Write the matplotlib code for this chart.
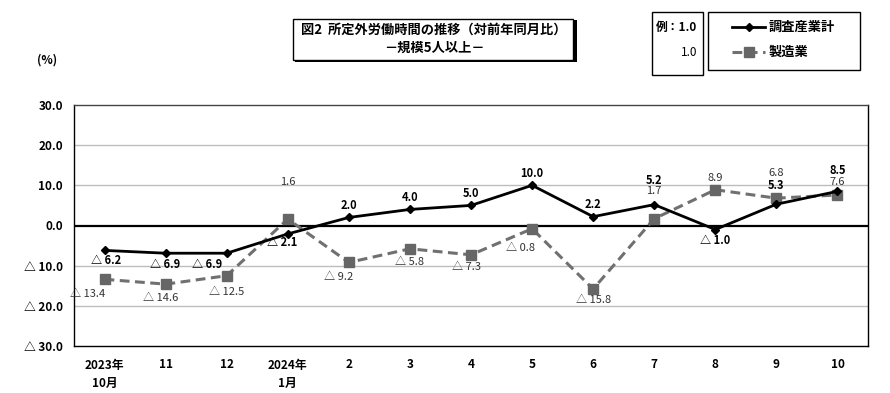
import matplotlib
matplotlib.use("Agg")
import matplotlib.pyplot as plt
from matplotlib.patches import Rectangle
from matplotlib.lines import Line2D

plt.rcParams['font.family'] = ['Noto Sans CJK JP', 'DejaVu Sans']

categories = ["2023年\n10月", "11", "12", "2024年\n1月", "2", "3", "4", "5", "6", "7", "8", "9", "10"]
total = [-6.2, -6.9, -6.9, -2.1, 2.0, 4.0, 5.0, 10.0, 2.2, 5.2, -1.0, 5.3, 8.5]
manuf = [-13.4, -14.6, -12.5, 1.6, -9.2, -5.8, -7.3, -0.8, -15.8, 1.7, 8.9, 6.8, 7.6]
yticks = [30, 20, 10, 0, -10, -20, -30]
ytick_labels = ["30.0", "20.0", "10.0", "0.0", "△ 10.0", "△ 20.0", "△ 30.0"]
series_names = ["調査産業計", "製造業"]

# label offsets (pixels)
total_off = [(2, -10), (0, -11), (-20, -11), (-6, -9), (0, 12), (0, 12), (0, 12), (0, 12),
             (0, 12), (0, 24), (0, -11), (0, 19), (0, 21)]
manuf_off = [(-17, -15), (-5, -14), (0, -16), (0, 37), (-10, -15), (0, -13), (-5, -12), (-12, -19),
             (0, -11), (0, 28), (0, 12), (0, 25), (0, 13)]

def fmt(v):
    return ("△ %.1f" % abs(v)) if v < 0 else ("%.1f" % v)

fig = plt.figure(figsize=(8.9, 3.93), dpi=100)
ax = fig.add_axes([74/890, 1-346/393, (868-74)/890, (346-105)/393])
x = list(range(len(categories)))

for yv in [20, 10, -10, -20]:
    ax.axhline(yv, color="#bdbdbd", lw=1.0, zorder=1)
ax.axhline(0, color="black", lw=1.6, zorder=2)

ax.plot(x, manuf, color="#707070", lw=2.2, ls=(0, (3.2, 1.8)), marker="s", ms=6.5,
        mfc="#666666", mec="#666666", zorder=3)
ax.plot(x, total, color="black", lw=2.0, marker="D", ms=4.5, mfc="black", mec="black", zorder=4)

narrow = ['Liberation Sans Narrow', 'Noto Sans CJK JP', 'DejaVu Sans']
for i, v in enumerate(total):
    dx, dy = total_off[i]
    ax.annotate(fmt(v), (i, v), xytext=(dx, dy), textcoords="offset pixels",
                ha="center", va="center", fontsize=8, fontweight="bold", family=narrow, zorder=5)
for i, v in enumerate(manuf):
    dx, dy = manuf_off[i]
    ax.annotate(fmt(v), (i, v), xytext=(dx, dy), textcoords="offset pixels",
                ha="center", va="center", fontsize=8, color="#333333", family=narrow, zorder=5)

ax.set_xlim(-0.5, len(categories) - 0.5)
ax.set_ylim(-30, 30)
ax.set_yticks(yticks)
ax.set_yticklabels(ytick_labels, fontsize=8.5, fontweight="bold")
ax.set_xticks(x)
ax.set_xticklabels(categories, fontsize=8.5, fontweight="bold", linespacing=1.5)
ax.tick_params(length=0, pad=8)
ax.tick_params(axis="x", pad=9)
for s in ax.spines.values():
    s.set_color("black")
    s.set_linewidth(1.0)
ax.spines["top"].set_color("#444444")
for lab in ax.get_xticklabels():
    lab.set_va("top")

fig.text(47/890, 1-60/393, "(%)", ha="center", va="center", fontsize=8.5, fontweight="bold")

# title box with shadow
fig.patches.append(Rectangle((295/890, 1-62/393), (282/890), (42/393), transform=fig.transFigure,
                             facecolor="black", edgecolor="none", zorder=0))
fig.patches.append(Rectangle((293/890, 1-60/393), (280/890), (41/393), transform=fig.transFigure,
                             facecolor="white", edgecolor="black", lw=1.0, zorder=1))
fig.text(434/890, 1-30/393, "図2  所定外労働時間の推移（対前年同月比）", ha="center", va="center",
         fontsize=9.5, fontweight="bold", zorder=2)
fig.text(434/890, 1-48/393, "－規模5人以上－", ha="center", va="center",
         fontsize=9.5, fontweight="bold", zorder=2)

# example box
fig.patches.append(Rectangle((652/890, 1-75/393), (51/890), (63/393), transform=fig.transFigure,
                             facecolor="white", edgecolor="black", lw=1.0))
fig.text(677/890, 1-27/393, "例：1.0", ha="center", va="center", fontsize=8.5, fontweight="bold")
fig.text(697/890, 1-52/393, "1.0", ha="right", va="center", fontsize=8.5, family=narrow)

# legend box
fig.patches.append(Rectangle((708/890, 1-70/393), (152/890), (58/393), transform=fig.transFigure,
                             facecolor="white", edgecolor="black", lw=1.0))
fig.lines.append(Line2D([732/890, 765/890], [1-27/393, 1-27/393], transform=fig.transFigure,
                        color="black", lw=2.0, marker="D", ms=4.5, markevery=[], zorder=3))
fig.lines.append(Line2D([748.5/890], [1-27/393], transform=fig.transFigure,
                        color="black", marker="D", ms=4.5, ls="none", zorder=3))
fig.lines.append(Line2D([732/890, 765/890], [1-52/393, 1-52/393], transform=fig.transFigure,
                        color="#707070", lw=2.2, ls=(0, (3.2, 1.8)), zorder=3))
fig.lines.append(Line2D([748.5/890], [1-52/393], transform=fig.transFigure,
                        color="#666666", marker="s", ms=6.5, ls="none", zorder=3))
fig.text(769/890, 1-27/393, series_names[0], ha="left", va="center", fontsize=9.5, fontweight="bold")
fig.text(769/890, 1-52/393, series_names[1], ha="left", va="center", fontsize=9.5, fontweight="bold")

fig.savefig("out.png", dpi=100)
